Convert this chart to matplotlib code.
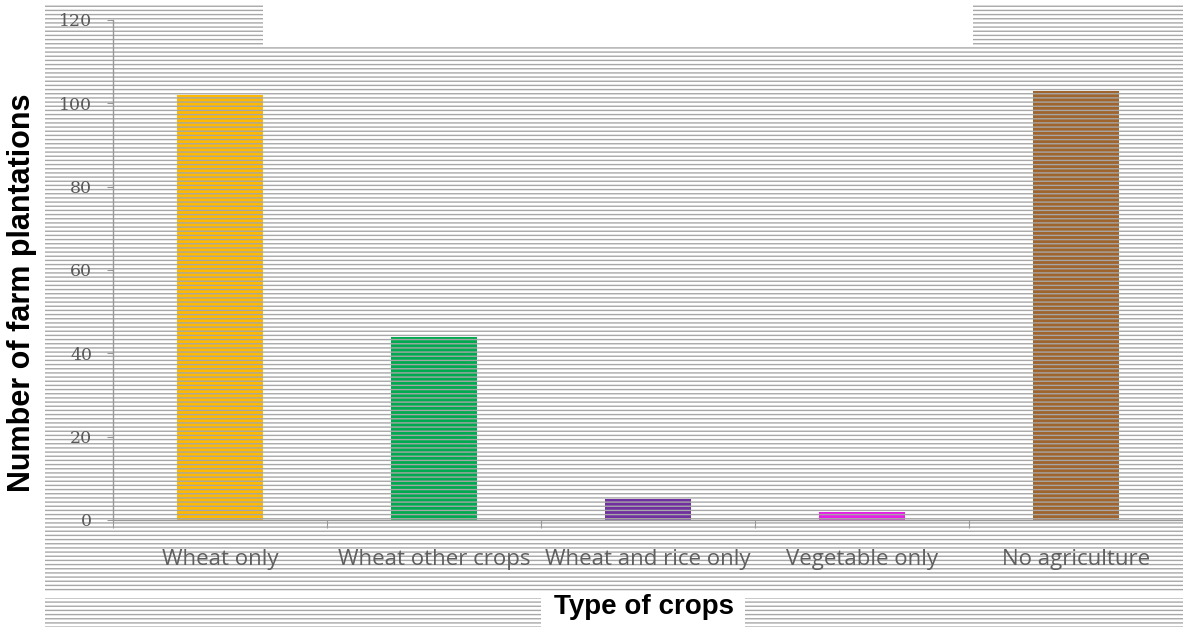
import matplotlib
matplotlib.use('Agg')
import matplotlib.pyplot as plt
from matplotlib.patches import Rectangle

crops = ['Wheat only', 'Wheat other crops', 'Wheat and rice only', 'Vegetable only', 'No agriculture']
plantations = [102, 44, 5, 2, 103]
bar_colors = ['#FFB900', '#00AA50', '#7030A0', '#E61EE6', '#A0642D']
y_ticks = [0, 20, 40, 60, 80, 100, 120]

W, H = 1183, 627
plt.rcParams['hatch.linewidth'] = 1.0

fig = plt.figure(figsize=(W / 100, H / 100), dpi=100)
fig.patch.set_facecolor('white')

# striped background blocks, in pixels (x0, y0 from top, x1, y1)
bg_blocks = [(45, 47, 1183, 591), (45, 5, 263, 45), (973, 5, 1183, 45),
             (45, 598, 541, 627), (745, 598, 1183, 627)]
for x0, y0, x1, y1 in bg_blocks:
    fig.patches.append(Rectangle((x0 / W, 1 - y1 / H), (x1 - x0) / W, (y1 - y0) / H,
                                 transform=fig.transFigure, facecolor='none',
                                 edgecolor='#a8a8a8', hatch='----', linewidth=0, zorder=-10))

ax = fig.add_axes([113 / W, 1 - 520 / H, (1183 - 113) / W, 500 / H])
ax.set_facecolor('none')
ax.set_zorder(5)

x = range(len(crops))
ax.bar(x, plantations, width=0.4, color=bar_colors, edgecolor='#a6a6a6',
       hatch='----', linewidth=0, zorder=2)

ax.set_xlim(-0.5, len(crops) - 0.5)
ax.set_ylim(0, 120)
ax.set_yticks(y_ticks)
ax.set_yticklabels([str(v) for v in y_ticks], fontfamily='DejaVu Serif', fontsize=12.5, color='#595959')
ax.tick_params(axis='y', length=4, width=0.8, color='#999999', pad=11)

ax.set_xticks(list(x))
ax.set_xticklabels(crops, fontfamily='Open Sans', fontsize=16, color='#5f5f5f')
ax.tick_params(axis='x', which='major', length=0, pad=21)
ax.set_xticks([i + 0.5 for i in range(-1, len(crops))], minor=True)
ax.tick_params(axis='x', which='minor', length=6, width=0.8, color='#999999')

for s in ['top', 'right']:
    ax.spines[s].set_visible(False)
for s in ['left', 'bottom']:
    ax.spines[s].set_color('#999999')
    ax.spines[s].set_linewidth(1.0)

fig.text(22 / W, 1 - 293 / H, 'Number of farm plantations', rotation=90, ha='center', va='center',
         fontfamily='Liberation Sans', fontweight='bold', fontsize=22, color='black')
fig.text(644 / W, 1 - 607 / H, 'Type of crops', ha='center', va='center',
         fontfamily='Liberation Sans', fontweight='bold', fontsize=20, color='black',
         bbox=dict(facecolor='white', edgecolor='none', pad=1))

fig.savefig('out.png', dpi=100)
